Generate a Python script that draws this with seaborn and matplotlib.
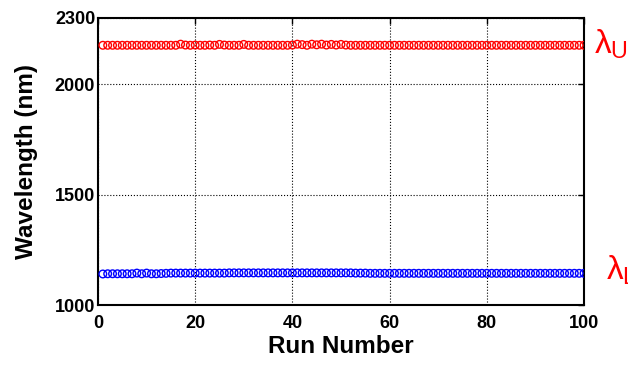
import numpy as np
import pandas as pd
import matplotlib
matplotlib.use("Agg")
import matplotlib.pyplot as plt
import matplotlib.transforms as mtransforms
import seaborn as sns

run_number = list(range(1, 101))
upper_nm = [2176, 2176, 2176, 2176, 2176, 2176, 2176, 2176, 2176, 2176,
            2176, 2176, 2176, 2176, 2176, 2176, 2181, 2177, 2176, 2177,
            2176, 2176, 2177, 2176, 2180, 2177, 2176, 2176, 2176, 2180,
            2176, 2176, 2176, 2176, 2176, 2176, 2176, 2176, 2176, 2177,
            2181, 2179, 2176, 2181, 2178, 2181, 2177, 2180, 2177, 2180,
            2177, 2176, 2176, 2176, 2176, 2176, 2176, 2176, 2176, 2176,
            2176, 2176, 2176, 2176, 2176, 2176, 2176, 2176, 2176, 2176,
            2176, 2176, 2176, 2176, 2176, 2176, 2176, 2176, 2176, 2176,
            2176, 2176, 2176, 2176, 2176, 2176, 2176, 2176, 2176, 2176,
            2176, 2176, 2176, 2176, 2176, 2176, 2176, 2176, 2176, 2176]
lower_nm = [1141, 1142, 1142, 1142, 1142, 1142, 1142, 1145, 1142, 1145,
            1142, 1142, 1143, 1144, 1145, 1145, 1145, 1145, 1145, 1145,
            1145, 1145, 1145, 1145, 1145, 1145, 1146, 1146, 1146, 1146,
            1146, 1146, 1146, 1146, 1146, 1146, 1146, 1146, 1146, 1146,
            1146, 1146, 1146, 1146, 1146, 1146, 1146, 1146, 1146, 1146,
            1146, 1146, 1145, 1145, 1145, 1144, 1144, 1144, 1144, 1144,
            1144, 1144, 1144, 1144, 1144, 1144, 1144, 1144, 1144, 1144,
            1144, 1144, 1144, 1144, 1144, 1144, 1144, 1144, 1144, 1144,
            1144, 1144, 1144, 1144, 1144, 1144, 1144, 1144, 1144, 1144,
            1144, 1144, 1144, 1144, 1144, 1144, 1144, 1144, 1144, 1144]
x_ticks = [0, 20, 40, 60, 80, 100]
y_ticks = [1000, 1500, 2000, 2300]
labels = [r"$\lambda_U$", r"$\lambda_L$"]

df = pd.DataFrame({"run": run_number, "upper": upper_nm, "lower": lower_nm})

sns.set_style("white")
plt.rcParams["font.family"] = ["Liberation Sans", "DejaVu Sans"]
plt.rcParams["text.color"] = "black"
plt.rcParams["axes.labelcolor"] = "black"
plt.rcParams["xtick.color"] = "black"
plt.rcParams["ytick.color"] = "black"
plt.rcParams["mathtext.fontset"] = "custom"
plt.rcParams["mathtext.rm"] = "Liberation Sans"
plt.rcParams["mathtext.it"] = "Liberation Sans"

fig = plt.figure(figsize=(6.28, 3.65), dpi=100)
ax = fig.add_axes([0.156, 0.164, 0.774, 0.787])

sns.scatterplot(data=df, x="run", y="upper", ax=ax, marker="o", s=30,
                facecolor="none", edgecolor="#ff0000", linewidth=1.0, zorder=3)
sns.scatterplot(data=df, x="run", y="lower", ax=ax, marker="o", s=30,
                facecolor="none", edgecolor="#0000ff", linewidth=1.0, zorder=3)

ax.set_xlim(0, 100)
ax.set_ylim(1000, 2300)
ax.set_xticks(x_ticks)
ax.set_yticks(y_ticks)
ax.grid(True, linestyle=":", color="black", linewidth=0.8)
ax.tick_params(direction="in", length=4, width=1, top=True, right=True,
               labelsize=13, colors="black")
ax.tick_params(axis="x", pad=7)
ax.tick_params(axis="y", pad=2)
for lab in ax.get_xticklabels() + ax.get_yticklabels():
    lab.set_fontweight("bold")
for sp in ax.spines.values():
    sp.set_color("black")
    sp.set_linewidth(1.5)
ax.set_xlabel("Run Number", fontsize=17.5, fontweight="bold", labelpad=2,
              color="black")
ax.set_ylabel("Wavelength (nm)", fontsize=17.5, fontweight="bold", labelpad=12,
              color="black")

trans = mtransforms.blended_transform_factory(ax.transAxes, ax.transData)
ax.text(1.02, upper_nm[-1] + 5, labels[0], transform=trans, color="#ff0000",
        fontsize=24, va="center", ha="left")
ax.text(1.045, lower_nm[-1] + 15, labels[1], transform=trans, color="#ff0000",
        fontsize=24, va="center", ha="left")

fig.savefig("out.png", dpi=100)
